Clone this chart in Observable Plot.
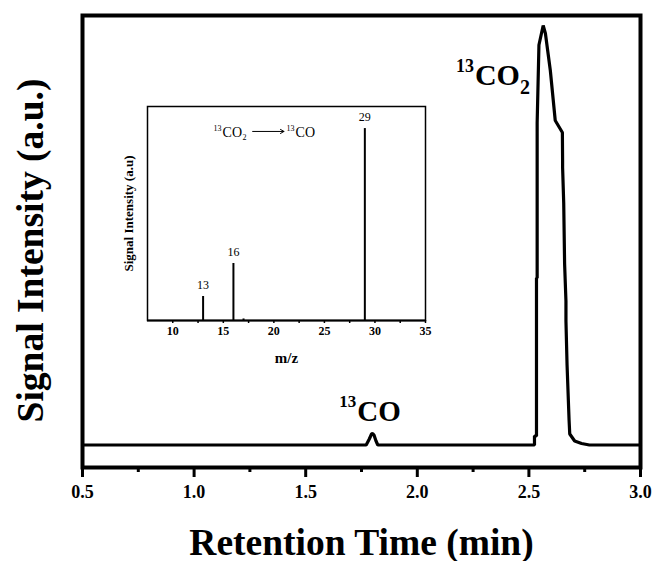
<!DOCTYPE html>
<html>
<head>
<meta charset="utf-8">
<script src="https://cdn.jsdelivr.net/npm/d3@7"></script>
<script src="https://cdn.jsdelivr.net/npm/@observablehq/plot@0.6"></script>
<style>
  html, body { margin: 0; padding: 0; background: white; }
  #wrap { position: relative; width: 657px; height: 561px; overflow: hidden; }
  #inset { position: absolute; left: 100px; top: 95px; }
  svg text { font-family: 'Liberation Serif', 'Times New Roman', serif; }
</style>
</head>
<body>
<div id="wrap"><div id="main"></div><div id="inset"></div></div>
<script>
// ---- Main chromatogram (retention time in min, signal in a.u.) ----
const retentionTime = [0.5, 1.771, 1.785, 1.795, 1.800, 1.806, 1.815, 1.823,
  2.525, 2.525, 2.534, 2.534, 2.537, 2.537, 2.545, 2.564,
  2.574, 2.596, 2.618, 2.650, 2.651, 2.651, 2.656, 2.660, 2.666, 2.666, 2.671, 2.680, 2.683, 2.705, 2.736, 2.771, 3.0];
const signal = [0, 0, 6, 11, 11.5, 10, 4, 0,
  0, 9, 9, 167, 167, 322, 400, 419.5,
  411.5, 374.5, 324.5, 312.5, 284.5, 277.5, 242, 181, 144, 124, 80, 25, 11, 4, 1.5, 0, 0];
const xMajorTicks = [0.5, 1.0, 1.5, 2.0, 2.5, 3.0];
const xMinorTicks = [0.75, 1.25, 1.75, 2.25, 2.75];
const xTitle = "Retention Time (min)";
const yTitle = "Signal Intensity (a.u.)";
// peak annotations: isotope prefix, species, subscript, anchor (time, signal)
const peakIsotope = ["13", "13"];
const peakSpecies = ["CO", "CO"];
const peakSubscript = ["2", ""];
const peakTime = [2.258, 1.731];
const peakSignal = [360.5, 24.5];

// ---- Inset mass spectrum ----
const mz = [13, 16, 17, 29];
const abundance = [12.5, 29.7, 0.8, 100];
const mzLabelled = [true, true, false, true];
const insetXTicks = [10, 15, 20, 25, 30, 35];
const insetXMinor = [12.5, 17.5, 22.5, 27.5, 32.5];
const insetXTitle = "m/z";
const insetYTitle = "Signal Intensity (a.u)";
const reactionFrom = {mz: 14.93, y: 95.4};
const reactionTo = {mz: 22.15, y: 95.4};
const reactionArrow = {x1: 17.9, x2: 21.0, y: 98.5};

const font = "'Liberation Serif', 'Times New Roman', serif";
const trace = d3.zip(retentionTime, signal).map(([t, s]) => ({t, s}));
const peaks = peakTime.map((t, i) => ({t, s: peakSignal[i], iso: peakIsotope[i], sp: peakSpecies[i], sub: peakSubscript[i]}));
const co2 = peaks.filter(d => d.sub === "2");
const co = peaks.filter(d => d.sub === "");

const main = Plot.plot({
  width: 657, height: 561,
  marginLeft: 82, marginRight: 17, marginTop: 15, marginBottom: 94,
  style: {fontFamily: font, background: "white", color: "black", overflow: "visible"},
  x: {domain: [0.5, 3.0]},
  y: {domain: [-22.5, 429.5], axis: null},
  marks: [
    Plot.line(trace, {x: "t", y: "s", stroke: "black", strokeWidth: 3.2, strokeLinejoin: "miter"}),
    Plot.frame({stroke: "black", strokeWidth: 4}),
    Plot.axisX({ticks: xMajorTicks, tickSize: 10, strokeWidth: 3, tickPadding: 8, fontSize: 18, fontWeight: "bold", fill: "black", tickFormat: d => d.toFixed(1), label: null}),
    Plot.axisX({ticks: xMinorTicks, tickSize: 5, strokeWidth: 3, text: null, label: null}),
    Plot.text([xTitle], {frameAnchor: "bottom", dy: 87, lineAnchor: "bottom", textAnchor: "middle", fontSize: 37.5, fontWeight: "bold", fill: "black", text: d => d}),
    Plot.text([yTitle], {frameAnchor: "left", rotate: -90, dx: -52, dy: 9, textAnchor: "middle", fontSize: 37.5, fontWeight: "bold", fill: "black", text: d => d}),
    // 13CO2 label
    Plot.text(co2, {x: "t", y: "s", text: "iso", textAnchor: "end", lineAnchor: "bottom", dy: -13, dx: -1, fontSize: 18, fontWeight: "bold", fill: "black"}),
    Plot.text(co2, {x: "t", y: "s", text: "sp", textAnchor: "start", lineAnchor: "bottom", fontSize: 30, fontWeight: "bold", fill: "black"}),
    Plot.text(co2, {x: "t", y: "s", text: "sub", textAnchor: "start", lineAnchor: "bottom", dx: 45, dy: 9, fontSize: 20, fontWeight: "bold", fill: "black"}),
    // 13CO label
    Plot.text(co, {x: "t", y: "s", text: "iso", textAnchor: "end", lineAnchor: "bottom", dy: -14, dx: -1, fontSize: 17, fontWeight: "bold", fill: "black"}),
    Plot.text(co, {x: "t", y: "s", text: "sp", textAnchor: "start", lineAnchor: "bottom", fontSize: 29, fontWeight: "bold", fill: "black"})
  ]
});
document.getElementById("main").appendChild(main);

const bars = mz.map((m, i) => ({mz: m, a: abundance[i], lab: mzLabelled[i]}));
const inset = Plot.plot({
  width: 340, height: 285,
  marginLeft: 47, marginRight: 15, marginTop: 11, marginBottom: 60,
  style: {fontFamily: font, background: "transparent", color: "black", overflow: "visible"},
  x: {domain: [7.5, 35]},
  y: {domain: [0, 111.5], axis: null},
  marks: [
    Plot.ruleX(bars, {x: "mz", y1: 0, y2: "a", stroke: "black", strokeWidth: 2}),
    Plot.text(bars.filter(d => d.lab), {x: "mz", y: "a", text: d => String(d.mz), dy: -11, fontSize: 12, fill: "black"}),
    Plot.frame({stroke: "black", strokeWidth: 1.5}),
    Plot.ruleY([0], {stroke: "black", strokeWidth: 2}),
    Plot.axisX({ticks: insetXTicks, tickSize: 3, strokeWidth: 1.5, tickPadding: 3, fontSize: 12, fontWeight: "bold", fill: "black", label: null}),
    Plot.axisX({ticks: insetXMinor, tickSize: 3, strokeWidth: 1.5, text: null, label: null}),
    Plot.text([insetXTitle], {frameAnchor: "bottom", dy: 42, textAnchor: "middle", fontSize: 15, fontWeight: "bold", fill: "black", text: d => d}),
    Plot.text([insetYTitle], {frameAnchor: "left", rotate: -90, dx: -19, textAnchor: "middle", fontSize: 13, fontWeight: "bold", fill: "black", text: d => d}),
    // reaction annotation 13CO2 -> 13CO
    Plot.text([reactionFrom], {x: "mz", y: "y", text: () => "13", textAnchor: "end", lineAnchor: "bottom", dy: -6, dx: -1, fontSize: 8, fill: "black"}),
    Plot.text([reactionFrom], {x: "mz", y: "y", text: () => "CO", textAnchor: "start", lineAnchor: "bottom", fontSize: 14, fill: "black"}),
    Plot.text([reactionFrom], {x: "mz", y: "y", text: () => "2", textAnchor: "start", lineAnchor: "bottom", dx: 20, dy: 3, fontSize: 8, fill: "black"}),
    Plot.arrow([reactionArrow], {x1: "x1", x2: "x2", y1: "y", y2: "y", stroke: "black", strokeWidth: 1, headLength: 6}),
    Plot.text([reactionTo], {x: "mz", y: "y", text: () => "13", textAnchor: "end", lineAnchor: "bottom", dy: -6, dx: -1, fontSize: 8, fill: "black"}),
    Plot.text([reactionTo], {x: "mz", y: "y", text: () => "CO", textAnchor: "start", lineAnchor: "bottom", fontSize: 14, fill: "black"})
  ]
});
document.getElementById("inset").appendChild(inset);
</script>
</body>
</html>
